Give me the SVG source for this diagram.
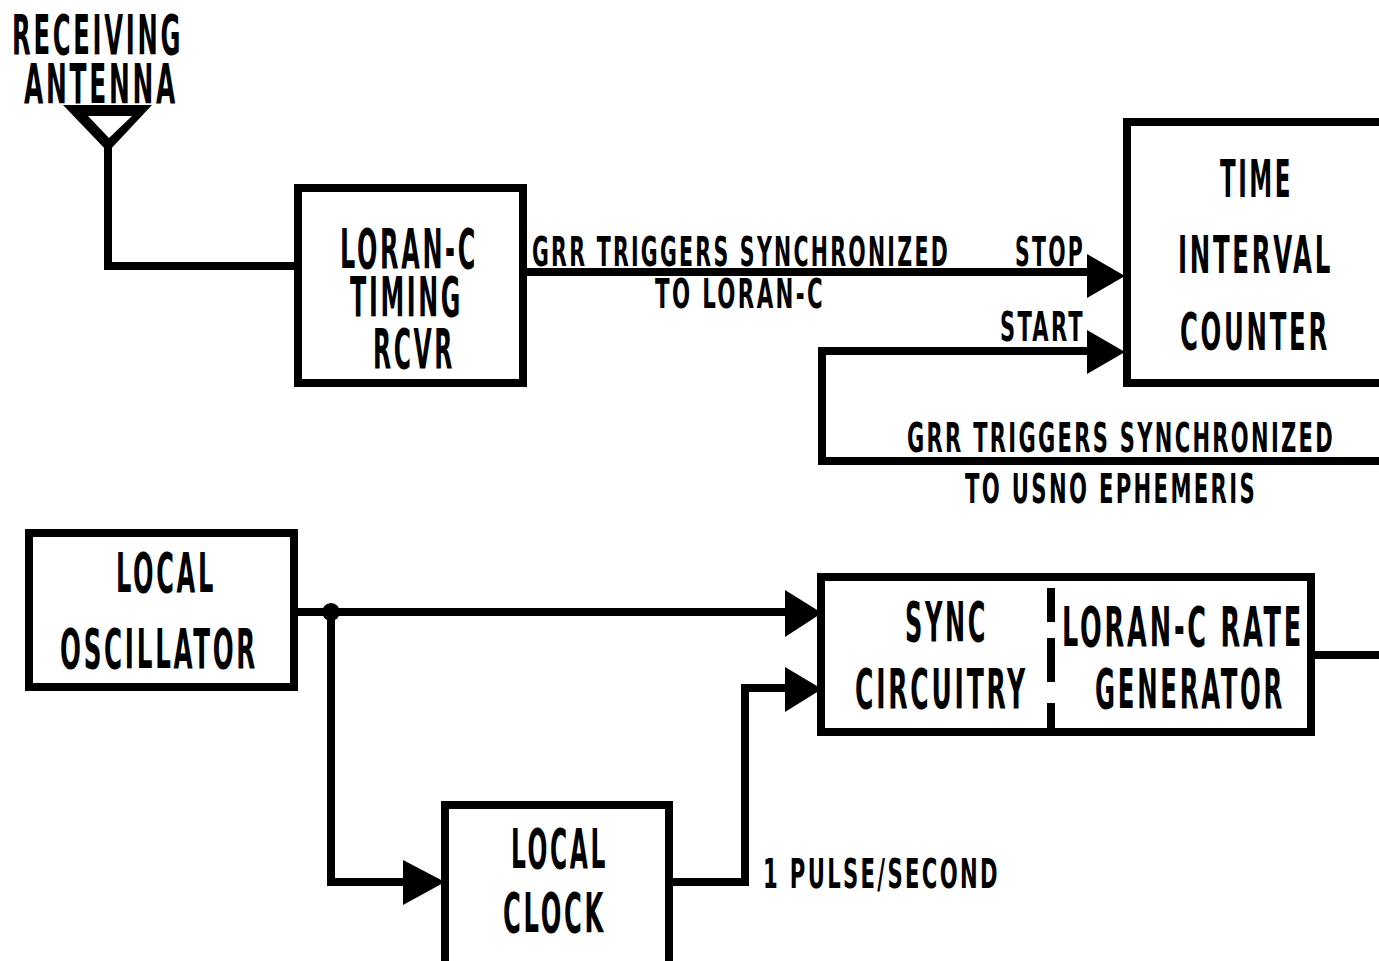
<svg xmlns="http://www.w3.org/2000/svg" width="1379" height="961" viewBox="0 0 1379 961">
<style>
.box{fill:none;stroke:#000;stroke-width:8;stroke-linejoin:miter}
.ln{fill:none;stroke:#000;stroke-width:8;stroke-linejoin:miter}
.ah{fill:#000;stroke:none}
.t{font-family:"Liberation Sans Narrow","DejaVu Sans Condensed","Liberation Sans",sans-serif;font-weight:bold;fill:#000;letter-spacing:0.1em}
.L{font-size:56px}
.M{font-size:52px}
.S{font-size:41px}
</style>
<rect width="1379" height="961" fill="#fff"/>

<g id="antenna">
<text class="t L" x="12" y="54" textLength="171" lengthAdjust="spacingAndGlyphs">RECEIVING</text>
<text class="t L" x="24" y="103" textLength="154" lengthAdjust="spacingAndGlyphs">ANTENNA</text>
<polygon points="63,105 152,105 108,152" fill="#000"/>
<polygon points="88,116 132,116 109,138" fill="#fff"/>
</g>

<g id="rcvr">
<rect class="box" x="298" y="188" width="225" height="195"/>
<text class="t L" x="340" y="268" textLength="138" lengthAdjust="spacingAndGlyphs">LORAN-C</text>
<text class="t L" x="350" y="316" textLength="113" lengthAdjust="spacingAndGlyphs">TIMING</text>
<text class="t L" x="373" y="368" textLength="82" lengthAdjust="spacingAndGlyphs">RCVR</text>
</g>

<g id="counter">
<path class="box" d="M1390,122 H1127 V383 H1390"/>
<text class="t M" x="1220" y="197" textLength="73" lengthAdjust="spacingAndGlyphs">TIME</text>
<text class="t M" x="1178" y="273" textLength="155" lengthAdjust="spacingAndGlyphs">INTERVAL</text>
<text class="t M" x="1180" y="350" textLength="150" lengthAdjust="spacingAndGlyphs">COUNTER</text>
</g>

<g id="oscillator">
<rect class="box" x="29" y="533" width="265" height="154"/>
<text class="t L" x="116" y="592" textLength="100" lengthAdjust="spacingAndGlyphs">LOCAL</text>
<text class="t L" x="60" y="668" textLength="198" lengthAdjust="spacingAndGlyphs">OSCILLATOR</text>
</g>

<g id="sync">
<rect class="box" x="821" y="577" width="490" height="155"/>
<path class="ln" d="M1051,588 V622 M1051,638 V682 M1051,703 V732"/>
<text class="t L" x="905" y="641" textLength="83" lengthAdjust="spacingAndGlyphs">SYNC</text>
<text class="t L" x="855" y="708" textLength="173" lengthAdjust="spacingAndGlyphs">CIRCUITRY</text>
<text class="t L" x="1062" y="646" textLength="242" lengthAdjust="spacingAndGlyphs">LORAN-C RATE</text>
<text class="t L" x="1095" y="708" textLength="190" lengthAdjust="spacingAndGlyphs">GENERATOR</text>
</g>

<g id="clock">
<path class="box" d="M445,970 V805 H669 V970"/>
<text class="t L" x="511" y="868" textLength="97" lengthAdjust="spacingAndGlyphs">LOCAL</text>
<text class="t L" x="503" y="932" textLength="103" lengthAdjust="spacingAndGlyphs">CLOCK</text>
</g>

<g id="connectors">
<path class="ln" d="M108,148 V266 H298"/>
<path class="ln" d="M527,272 H1092"/>
<polygon class="ah" points="1087,254 1125,276 1087,298"/>
<text class="t S" x="532" y="266" textLength="418" lengthAdjust="spacingAndGlyphs">GRR TRIGGERS SYNCHRONIZED</text>
<text class="t S" x="655" y="308" textLength="170" lengthAdjust="spacingAndGlyphs">TO LORAN-C</text>
<text class="t S" x="1015" y="266" textLength="70" lengthAdjust="spacingAndGlyphs">STOP</text>

<path class="ln" d="M1390,461 H822 V351 H1092"/>
<polygon class="ah" points="1087,330 1125,352 1087,374"/>
<text class="t S" x="1000" y="341" textLength="85" lengthAdjust="spacingAndGlyphs">START</text>
<text class="t S" x="907" y="452" textLength="428" lengthAdjust="spacingAndGlyphs">GRR TRIGGERS SYNCHRONIZED</text>
<text class="t S" x="965" y="503" textLength="292" lengthAdjust="spacingAndGlyphs">TO USNO EPHEMERIS</text>

<path class="ln" d="M298,612 H790"/>
<polygon class="ah" points="785,590 822,613 785,637"/>
<circle cx="331" cy="612" r="9" fill="#000"/>
<path class="ln" d="M331,612 V882 H410"/>
<polygon class="ah" points="403,860 445,882 403,905"/>

<path class="ln" d="M669,882 H745 V688 H790"/>
<polygon class="ah" points="785,667 822,689 785,712"/>
<text class="t S" x="763" y="888" textLength="237" lengthAdjust="spacingAndGlyphs">1 PULSE/SECOND</text>

<path class="ln" d="M1311,655 H1390"/>
</g>
</svg>
